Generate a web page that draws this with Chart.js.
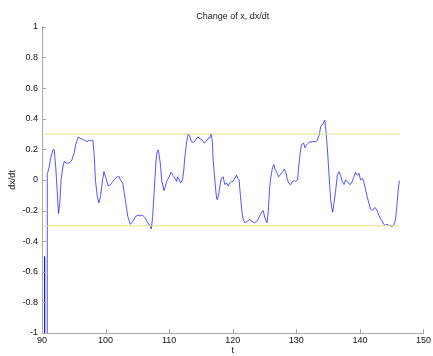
<!DOCTYPE html>
<html>
<head>
<meta charset="utf-8">
<title>Change of x, dx/dt</title>
<script src="https://cdn.jsdelivr.net/npm/chart.js@4/dist/chart.umd.min.js"></script>
<style>
  html, body { margin: 0; padding: 0; background: #fff; }
  #wrap { width: 433px; height: 356px; }
</style>
</head>
<body>
<div id="wrap"><canvas id="dxdtChart" width="433" height="356"></canvas></div>
<script>
// time samples (t) and the derivative
const tValues = [
  90.40, 90.42, 90.80, 90.83, 91.03, 91.40, 91.77, 91.92, 92.19, 92.44,
  92.60, 92.80, 93.00, 93.30, 93.50, 93.80, 94.30, 94.70, 95.05, 95.30,
  95.70, 96.10, 96.60, 97.10, 97.50, 97.80, 98.00, 98.20, 98.40, 98.70,
  98.95, 99.20, 99.40, 99.73, 100.0, 100.4, 100.8, 101.3, 101.8, 102.2,
  102.3, 102.7, 103.1, 103.5, 103.9, 104.3, 104.7, 105.1, 105.5, 105.8,
  106.25, 106.66, 107.0, 107.2, 107.4, 107.7, 107.9, 108.1, 108.3, 108.6,
  108.85, 109.2, 109.6, 110.0, 110.3, 110.6, 110.9, 111.2, 111.3, 111.6,
  111.8, 112.1, 112.3, 112.5, 112.75, 113.0, 113.3, 113.5, 113.9, 114.15,
  114.5, 114.85, 115.2, 115.5, 115.9, 116.1, 116.4, 116.6, 116.8, 116.9,
  117.2, 117.45, 117.6, 117.8, 118.0, 118.2, 118.5, 118.75, 119.0, 119.3,
  119.5, 119.8, 120.05, 120.3, 120.6, 120.8, 121.0, 121.2, 121.45, 121.65,
  121.9, 122.3, 122.65, 123.0, 123.4, 123.8, 124.2, 124.55, 124.8, 125.0,
  125.25, 125.4, 125.6, 125.8, 126.0, 126.25, 126.45, 126.65, 126.97, 127.2,
  127.6, 127.85, 128.1, 128.4, 128.6, 128.9, 129.15, 129.4, 129.7, 129.9,
  130.2, 130.35, 130.6, 130.8, 131.15, 131.35, 131.65, 132.0, 132.5, 133.1,
  133.3, 133.6, 133.85, 134.27, 134.47, 134.6, 134.9, 135.16, 135.4, 135.7,
  135.9, 136.2, 136.45, 136.7, 136.97, 137.2, 137.5, 137.75, 138.0, 138.3,
  138.5, 138.8, 139.06, 139.3, 139.6, 139.85, 140.1, 140.4, 140.6, 140.9,
  141.14, 141.4, 141.65, 141.9, 142.2, 142.4, 142.7, 142.97, 143.2, 143.5,
  143.75, 144.0, 144.27, 144.5, 144.8, 145.05, 145.3, 145.6, 145.8, 146.03,
  146.2
];
const dxdt = [
  -0.50, -1.20, -1.20, 0.04, 0.065, 0.15, 0.20, 0.196, 0.065, -0.11,
  -0.22, -0.15, 0.00, 0.087, 0.12, 0.11, 0.11, 0.13, 0.174, 0.23,
  0.28, 0.27, 0.26, 0.25, 0.26, 0.255, 0.26, 0.17, 0.00, -0.11,
  -0.15, -0.11, -0.04, 0.054, 0.02, -0.04, -0.03, 0.00, 0.02, 0.02,
  0.00, -0.02, -0.13, -0.24, -0.29, -0.27, -0.24, -0.23, -0.235, -0.23,
  -0.25, -0.28, -0.30, -0.32, -0.24, -0.04, 0.11, 0.185, 0.196, 0.11,
  -0.01, -0.07, -0.01, 0.02, 0.05, 0.03, 0.01, -0.01, 0.02, 0.00,
  -0.02, 0.00, 0.065, 0.16, 0.25, 0.30, 0.28, 0.25, 0.246, 0.26,
  0.28, 0.27, 0.26, 0.24, 0.255, 0.27, 0.275, 0.30, 0.25, 0.14,
  -0.01, -0.12, -0.13, -0.09, -0.04, 0.01, 0.02, -0.03, -0.02, -0.04,
  -0.02, -0.01, -0.01, 0.01, 0.03, 0.01, 0.00, -0.10, -0.21, -0.26,
  -0.28, -0.27, -0.26, -0.27, -0.28, -0.27, -0.24, -0.21, -0.20, -0.24,
  -0.27, -0.28, -0.20, -0.05, 0.02, 0.08, 0.10, 0.07, 0.044, 0.02,
  0.04, 0.054, 0.07, 0.044, 0.00, -0.026, -0.03, -0.01, -0.005, -0.01,
  0.00, 0.077, 0.174, 0.23, 0.24, 0.21, 0.23, 0.246, 0.25, 0.25,
  0.26, 0.294, 0.35, 0.37, 0.39, 0.35, 0.196, 0.02, -0.13, -0.21,
  -0.16, -0.065, 0.03, 0.054, 0.03, -0.01, -0.03, 0.00, -0.01, -0.026,
  -0.03, -0.01, 0.02, 0.048, 0.03, 0.044, 0.00, 0.01, -0.01, -0.065,
  -0.11, -0.15, -0.19, -0.20, -0.19, -0.18, -0.20, -0.23, -0.25, -0.27,
  -0.29, -0.296, -0.29, -0.296, -0.30, -0.305, -0.296, -0.26, -0.175, -0.065,
  -0.005
];

// threshold lines
const limitT = [90.4, 146.2];
const upperLimit = [0.3, 0.3];
const lowerLimit = [-0.3, -0.3];

const X_MIN = 90, X_MAX = 150, X_STEP = 10;
const Y_MIN = -1, Y_MAX = 1, Y_STEP = 0.2;

const FONT = "'Liberation Sans', Arial, Helvetica, sans-serif";
const AXIS_GREY = "#a8a8a8";
const TEXT = "#222";

const toPoints = (xs, ys) => xs.map((x, i) => ({ x, y: ys[i] }));

// MATLAB style: tick marks pointing into the plot
const inwardTicks = {
  id: "inwardTicks",
  afterDatasetsDraw(chart) {
    const { ctx, chartArea, scales } = chart;
    const len = 4;
    ctx.save();
    ctx.strokeStyle = AXIS_GREY;
    ctx.lineWidth = 1;
    ctx.beginPath();
    scales.x.ticks.forEach((t) => {
      const px = Math.round(scales.x.getPixelForValue(t.value)) + 0.5;
      ctx.moveTo(px, chartArea.bottom);
      ctx.lineTo(px, chartArea.bottom - len);
    });
    scales.y.ticks.forEach((t) => {
      const py = Math.round(scales.y.getPixelForValue(t.value)) + 0.5;
      ctx.moveTo(chartArea.left, py);
      ctx.lineTo(chartArea.left + len, py);
    });
    ctx.stroke();
    ctx.restore();
  },
};

new Chart(document.getElementById("dxdtChart"), {
  type: "line",
  data: {
    datasets: [
      {
        label: "upper",
        data: toPoints(limitT, upperLimit),
        borderColor: "#e3df8c",
        borderWidth: 1,
        pointRadius: 0,
      },
      {
        label: "lower",
        data: toPoints(limitT, lowerLimit),
        borderColor: "#e3df8c",
        borderWidth: 1,
        pointRadius: 0,
      },
      {
        label: "dx/dt",
        data: toPoints(tValues, dxdt),
        borderColor: "rgba(0,0,255,0.75)",
        borderWidth: 0.9,
        pointRadius: 0,
        tension: 0,
      },
    ],
  },
  options: {
    responsive: false,
    devicePixelRatio: 1,
    animation: false,
    events: [],
    layout: { padding: { left: 0, right: 6, top: 0, bottom: 0 } },
    plugins: {
      legend: { display: false },
      tooltip: { enabled: false },
      title: {
        display: true,
        text: "Change of x, dx/dt",
        fullSize: false,
        color: TEXT,
        font: { family: FONT, size: 9, weight: "normal" },
        padding: { top: 11, bottom: 5 },
      },
    },
    scales: {
      x: {
        type: "linear",
        min: X_MIN,
        max: X_MAX,
        ticks: {
          stepSize: X_STEP,
          color: "#111",
          padding: 2,
          maxRotation: 0,
          font: { family: FONT, size: 9 },
        },
        grid: { display: false, drawTicks: false },
        border: { display: true, color: AXIS_GREY, width: 1 },
        title: {
          display: true,
          text: "t",
          color: "#111",
          font: { family: FONT, size: 9 },
          padding: { top: 0, bottom: 0 },
        },
        afterFit(scale) {
          scale.height = 23;
        },
      },
      y: {
        min: Y_MIN,
        max: Y_MAX,
        ticks: {
          stepSize: Y_STEP,
          color: "#111",
          padding: 4,
          font: { family: FONT, size: 9 },
          callback: (v) => String(+v.toFixed(1)),
        },
        grid: { display: false, drawTicks: false },
        border: { display: true, color: AXIS_GREY, width: 1 },
        title: {
          display: true,
          text: "dx/dt",
          color: "#111",
          font: { family: FONT, size: 9 },
          padding: { top: 7, bottom: 0 },
        },
        afterFit(scale) {
          scale.width = 42;
        },
      },
    },
  },
  plugins: [inwardTicks],
});
</script>
</body>
</html>
